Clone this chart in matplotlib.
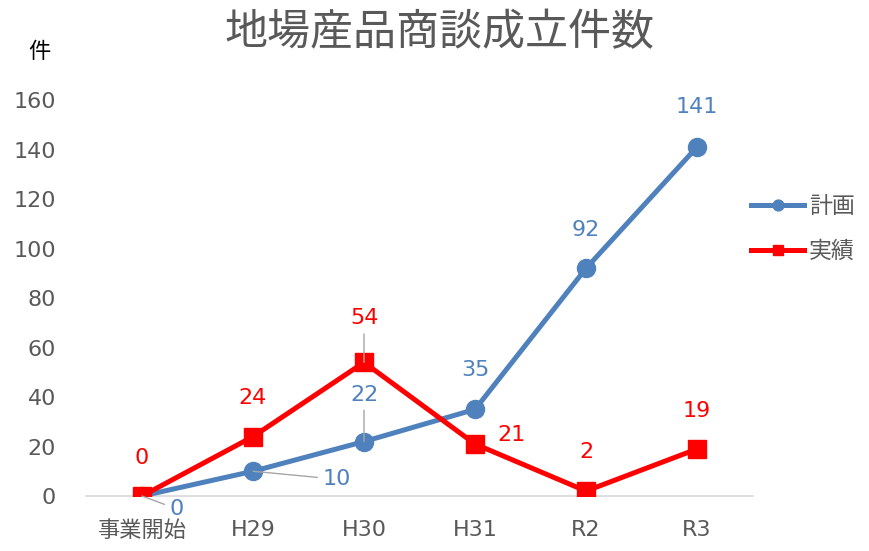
import matplotlib
matplotlib.use("Agg")
import matplotlib.pyplot as plt

plt.rcParams["font.family"] = ["DejaVu Sans", "Noto Sans CJK JP"]

years = ["事業開始", "H29", "H30", "H31", "R2", "R3"]
plan = [0, 10, 22, 35, 92, 141]
actual = [0, 24, 54, 21, 2, 19]

blue = "#4F81BD"
red = "#FF0000"
gray = "#595959"

# label offsets in pixels (dx, dy), positive dy = up
plan_off = [(35, -13), (84, -8), (0, 47), (0, 39), (0, 38), (0, 40)]
plan_leader = [True, True, True, False, False, False]
actual_off = [(0, 38), (0, 39), (0, 44), (36, 9), (0, 39), (0, 38)]
actual_leader = [False, False, True, False, False, False]

fig = plt.figure(figsize=(8.7, 5.51), dpi=100)
ax = fig.add_axes([0.0994, 0.0998, 0.7656, 0.7187])

x = list(range(len(years)))
ax.plot(x, plan, color=blue, lw=3.6, marker="o", ms=13, label="計画", zorder=3)
ax.plot(x, actual, color=red, lw=3.6, marker="s", ms=13, label="実績", zorder=3)

def add_labels(vals, offs, leaders, color):
    for i, v in enumerate(vals):
        dx, dy = offs[i]
        kw = {}
        if leaders[i]:
            kw["arrowprops"] = dict(arrowstyle="-", color="#A6A6A6", lw=1.0,
                                    shrinkA=2, shrinkB=0)
        ax.annotate(str(v), (i, v), xytext=(dx * 0.72, dy * 0.72),
                    textcoords="offset points", ha="center", va="center",
                    fontsize=16, color=color, zorder=5, **kw)

add_labels(plan, plan_off, plan_leader, blue)
add_labels(actual, actual_off, actual_leader, red)

ax.set_xlim(-0.5, len(years) - 0.5)
ax.set_ylim(0, 160)
ax.set_yticks(range(0, 161, 20))
ax.set_xticks(x)
ax.set_xticklabels(years)
ax.tick_params(length=0, labelsize=16, labelcolor=gray)
ax.tick_params(axis="x", pad=17)
ax.tick_params(axis="y", pad=22)
for s in ["top", "right", "left"]:
    ax.spines[s].set_visible(False)
ax.spines["bottom"].set_color("#D9D9D9")
ax.spines["bottom"].set_linewidth(1.2)

fig.text(0.505, 0.94, "地場産品商談成立件数", ha="center", va="center",
         fontsize=31, color=gray)
fig.text(0.045, 0.906, "件", ha="center", va="center", fontsize=16, color="black")

leg = fig.legend(loc="upper left", bbox_to_anchor=(0.84, 0.683), frameon=False,
                 fontsize=16.5, handlelength=2.3, handletextpad=0.2,
                 labelspacing=0.95, markerscale=0.6)
for t in leg.get_texts():
    t.set_color(gray)

fig.savefig("out.png", dpi=100)
